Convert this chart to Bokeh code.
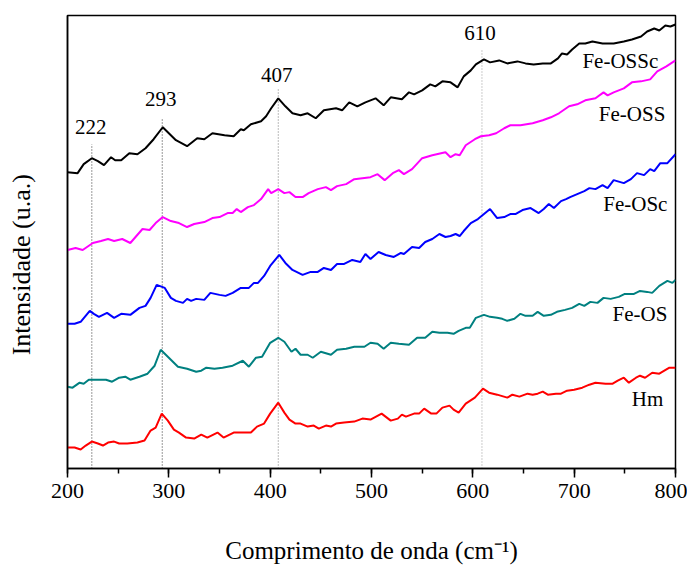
from bokeh.plotting import figure
from bokeh.models import Range1d, SingleIntervalTicker, FixedTicker
from bokeh.core.properties import value
from bokeh.embed import file_html
from bokeh.resources import INLINE

# ---- data (Raman shift in cm^-1, intensity in arbitrary units, stacked) ----
fe_ossc_x = [200,210,216,224,230,236,243,247,253,261,269,277,285,294,300,307,318,328,335,343,
             355,364,371,374,381,391,396,401,408,415,422,430,437,445,453,465,471,478,486,494,
             504,512,519,530,537,542,550,558,563,570,578,585,591,598,603,611,617,626,634,644,
             652,660,669,677,684,688,693,698,705,711,718,728,739,749,757,766,772,779,784,790,
             795,800]
fe_ossc_y = [297,296,305,311,308,304,312,309,309,316,315,321,330,342,336,329,323,331,330,336,
             334,333,340,339,345,348,353,361,371,363,356,354,356,351,359,361,359,367,363,367,
             371,364,372,370,377,375,379,385,383,388,387,382,393,399,405,410,407,409,406,408,
             406,405,406,406,411,416,415,420,426,426,428,426,426,428,430,433,438,441,439,444,
             443,445]

fe_oss_x = [200,208,215,225,233,240,246,254,262,274,281,287,294,302,310,318,325,335,343,350,
            358,363,367,371,378,384,391,398,401,408,414,419,425,432,438,447,455,460,466,475,
            483,491,499,506,513,521,527,532,540,550,560,573,578,583,587,593,602,608,616,623,
            631,637,647,659,669,677,685,695,703,711,721,729,733,739,749,757,766,775,782,791,
            800]
fe_oss_y = [219,221,219,226,228,230,228,230,226,240,239,246,252,248,246,242,245,247,251,252,
            256,256,260,257,262,264,270,280,276,280,276,277,272,272,276,280,282,279,283,285,
            290,291,292,295,289,296,299,295,300,311,314,317,312,315,314,324,330,333,334,336,
            341,344,344,346,349,352,356,363,365,369,371,377,374,377,381,387,388,390,398,403,
            409]

fe_osc_x = [200,207,213,222,226,231,239,246,253,262,271,277,282,288,296,302,307,314,318,322,
            327,335,341,350,356,363,371,379,384,388,394,400,409,415,422,432,440,447,453,460,
            466,473,481,489,494,499,507,514,522,529,532,540,547,553,560,567,573,578,583,587,
            591,598,605,611,617,624,631,637,642,649,657,665,670,675,680,687,692,696,703,710,
            715,721,728,733,739,749,756,762,769,775,779,785,792,800]
fe_osc_y = [145,145,147,158,155,152,156,151,155,154,161,163,171,184,181,171,168,166,170,168,
            170,169,176,174,173,176,181,181,186,186,193,203,214,206,199,194,197,197,201,199,
            205,205,209,207,215,210,217,214,212,216,215,222,221,227,230,235,232,233,235,233,
            238,246,250,255,260,251,252,255,255,259,261,256,260,265,261,268,270,272,275,278,
            281,280,284,281,289,286,290,296,294,300,298,306,306,315]

fe_os_x = [200,205,212,216,221,230,238,244,251,257,262,271,279,286,292,299,309,318,327,332,
           337,345,353,358,363,373,379,386,392,400,408,414,421,425,430,437,442,450,460,466,
           475,483,493,499,506,512,519,527,537,545,553,560,567,575,581,586,593,597,603,611,
           617,624,629,634,641,647,652,659,664,670,677,683,691,698,705,710,716,723,729,736,
           744,750,759,765,772,777,784,792,797,800]
fe_os_y = [82,81,86,85,89,89,89,87,91,92,89,92,95,103,119,112,102,100,97,98,
           101,100,101,102,103,108,102,111,112,126,131,127,117,120,114,114,111,117,114,119,
           120,122,122,126,125,120,126,125,124,131,131,137,136,136,135,138,141,141,151,154,
           152,151,150,148,150,155,153,153,157,153,154,157,159,161,165,163,167,166,171,170,
           172,175,175,178,177,176,183,188,186,189]

hm_x = [200,207,213,218,224,230,235,240,246,251,259,269,276,282,287,293,299,305,310,317,
        325,332,338,348,354,364,373,381,387,394,400,408,414,419,425,430,437,443,448,455,
        460,465,473,483,491,499,510,519,526,530,534,542,547,552,559,564,570,577,581,586,
        593,602,610,616,624,634,639,646,654,659,664,669,674,682,687,693,700,708,715,721,
        731,738,743,749,754,761,765,770,777,784,789,794,800]
hm_y = [21,21,19,23,27,25,23,26,27,25,25,26,28,38,41,55,48,39,36,31,
        30,34,31,36,31,36,36,36,42,45,55,66,56,49,45,45,42,43,40,43,
        42,45,46,47,50,49,55,48,50,54,52,55,55,60,55,55,61,63,59,56,
        65,71,80,76,74,71,74,72,75,74,75,77,74,75,75,78,79,81,84,86,
        85,85,88,91,86,91,93,91,96,95,98,101,101]

series_names = ["Fe-OSSc", "Fe-OSS", "Fe-OSc", "Fe-OS", "Hm"]
series_colors = ["#000000", "#FF00FF", "#0000FF", "#008080", "#FF0000"]
series_x = [fe_ossc_x, fe_oss_x, fe_osc_x, fe_os_x, hm_x]
series_y = [fe_ossc_y, fe_oss_y, fe_osc_y, fe_os_y, hm_y]

# series name labels (right edge x, centre y)
name_label_x = [783, 790, 792, 792, 788]
name_label_y = [408, 355, 265, 155, 70]

# peak markers
peak_labels = ["222", "293", "407", "610"]
peak_line_x = [224, 293.5, 408, 609]
peak_line_top = [325, 350, 381, 420]
peak_line_colors = ["#333333", "#333333", "#777777", "#999999"]
peak_label_x = [223, 292, 406.5, 607]
peak_label_y = [342, 370, 394, 436]

FONT = "Liberation Serif"

p = figure(width=687, height=572,
           x_range=Range1d(200, 800), y_range=Range1d(0, 454),
           output_backend="svg", toolbar_location=None,
           min_border_left=67, min_border_right=12,
           min_border_top=15, min_border_bottom=104)
p.xgrid.visible = False
p.ygrid.visible = False
p.outline_line_color = "black"
p.outline_line_width = 1.5
p.outline_line_alpha = 1.0
p.background_fill_color = "white"
p.border_fill_color = "white"

# peak dotted lines
p.segment(x0=peak_line_x, y0=[0] * len(peak_line_x), x1=peak_line_x, y1=peak_line_top,
          line_color=peak_line_colors, line_width=1, line_dash="1 2")

for xs, ys, c in zip(series_x, series_y, series_colors):
    assert len(xs) == len(ys)
    p.line(xs, ys, line_color=c, line_width=2)

p.text(x=name_label_x, y=name_label_y, text=series_names,
       text_font=value(FONT), text_font_size="21px", text_color="black",
       text_align="right", text_baseline="middle")
p.text(x=peak_label_x, y=peak_label_y, text=peak_labels,
       text_font=value(FONT), text_font_size="21px", text_color="black",
       text_align="center", text_baseline="middle")

xa = p.xaxis[0]
xa.ticker = SingleIntervalTicker(interval=100, num_minor_ticks=2)
xa.major_tick_out = 9
xa.major_tick_in = 0
xa.minor_tick_out = 5
xa.minor_tick_in = 0
xa.axis_line_width = 1.5
xa.major_tick_line_width = 1.5
xa.minor_tick_line_width = 1.5
xa.major_label_text_font = FONT
xa.major_label_text_font_size = "22px"
xa.major_label_text_color = "black"
xa.major_label_standoff = 6
xa.axis_label = "Comprimento de onda (cm\u207b\u00b9)"
xa.axis_label_text_font = FONT
xa.axis_label_text_font_size = "25px"
xa.axis_label_text_font_style = "normal"
xa.axis_label_text_color = "black"
xa.axis_label_standoff = 36

ya = p.yaxis[0]
ya.ticker = FixedTicker(ticks=[])
ya.major_tick_line_color = None
ya.minor_tick_line_color = None
ya.axis_line_width = 1.5
# trailing no-break spaces push the visible title slightly below the frame centre
ya.axis_label = "Intensidade (u.a.)" + "\u00a0" * 7
ya.axis_label_text_font = FONT
ya.axis_label_text_font_size = "26px"
ya.axis_label_text_font_style = "normal"
ya.axis_label_text_color = "black"
ya.axis_label_standoff = 32

open("out.html", "w").write(file_html(p, INLINE))
